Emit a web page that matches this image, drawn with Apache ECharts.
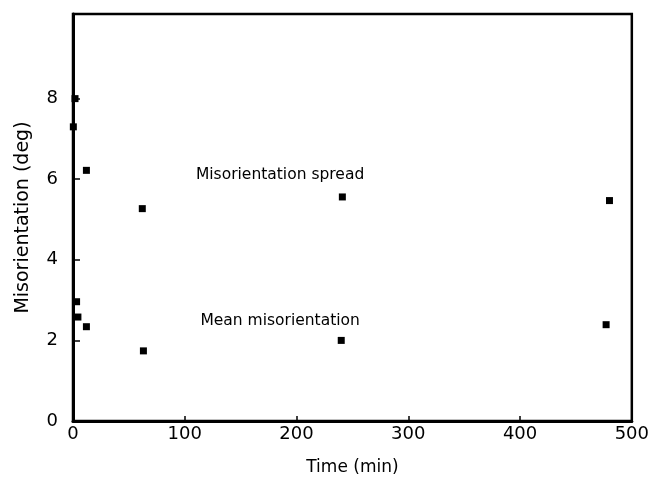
<!DOCTYPE html>
<html>
<head>
<meta charset="utf-8">
<script src="https://cdn.jsdelivr.net/npm/echarts@6/dist/echarts.min.js"></script>
<style>html,body{margin:0;padding:0;background:#fff}#c{width:652px;height:487px}</style>
</head>
<body>
<div id="c"></div>
<script>
// Data: [time (min), misorientation (deg)]
const spreadTime  = [1.8, 0.3, 12, 62, 241, 480];
const spreadValue = [8.0, 7.3, 6.22, 5.27, 5.56, 5.47];
const meanTime    = [3.2, 4.4, 12, 63, 240, 477];
const meanValue   = [2.96, 2.58, 2.34, 1.74, 2.0, 2.39];
const xTicks = [0, 100, 200, 300, 400, 500];
const yTicks = [0, 2, 4, 6, 8];
const annotations = [
  {name: 'Misorientation spread', t: 110, v: 6.1},
  {name: 'Mean misorientation', t: 114, v: 2.48}
];

const FONT = 'DejaVu Sans';
const chart = echarts.init(document.getElementById('c'));
chart.setOption({
  animation: false,
  backgroundColor: '#fff',
  grid: {left: 73, right: 15, top: 14, bottom: 66, show: true, borderColor: '#000', borderWidth: 2.5, containLabel: false},
  xAxis: {
    type: 'value', min: 0, max: 500, interval: 100,
    name: 'Time (min)', nameLocation: 'middle', nameGap: 38,
    nameTextStyle: {fontFamily: FONT, fontSize: 17, color: '#000'},
    axisLine: {show: true, lineStyle: {color: '#000', width: 3}},
    axisTick: {show: true, inside: true, length: 5, lineStyle: {color: '#000', width: 1.5}, customValues: [100, 200, 300, 400]},
    axisLabel: {fontFamily: FONT, fontSize: 18, color: '#000', margin: 4, customValues: xTicks},
    splitLine: {show: false}
  },
  yAxis: {
    type: 'value', min: 0, max: 10.1, interval: 2,
    name: 'Misorientation (deg)', nameLocation: 'middle', nameGap: 40,
    nameTextStyle: {fontFamily: FONT, fontSize: 19, color: '#000'},
    axisLine: {show: true, lineStyle: {color: '#000', width: 3}},
    axisTick: {show: true, inside: true, length: 7, lineStyle: {color: '#000', width: 1.5}, customValues: [2, 4, 6, 8]},
    axisLabel: {fontFamily: FONT, fontSize: 18, color: '#000', margin: 15, customValues: yTicks},
    splitLine: {show: false}
  },
  series: [
    {type: 'scatter', symbol: 'rect', symbolSize: 7, itemStyle: {color: '#000', opacity: 1},
     data: spreadTime.map((t, i) => [t, spreadValue[i]])},
    {type: 'scatter', symbol: 'rect', symbolSize: 7, itemStyle: {color: '#000', opacity: 1},
     data: meanTime.map((t, i) => [t, meanValue[i]])},
    {type: 'scatter', symbolSize: 0, silent: true, itemStyle: {opacity: 1},
     data: annotations.map(a => ({name: a.name, value: [a.t, a.v]})),
     label: {show: true, position: 'right', distance: 0, formatter: '{b}',
             fontFamily: FONT, fontSize: 15.5, color: '#000'}}
  ]
});
</script>
</body>
</html>
